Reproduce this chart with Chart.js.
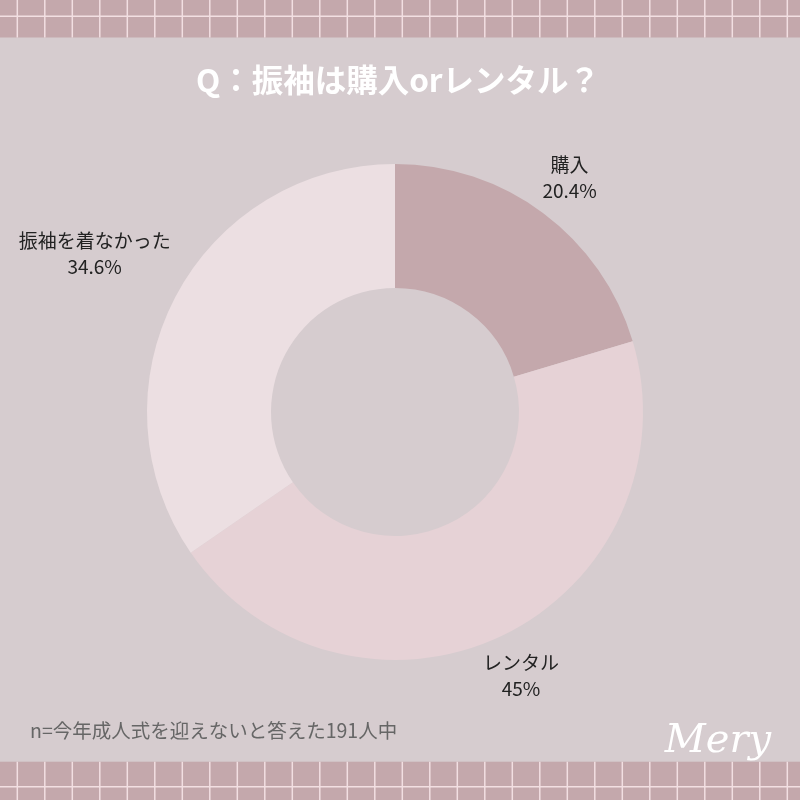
<!DOCTYPE html>
<html lang="ja">
<head>
<meta charset="utf-8">
<script src="https://cdn.jsdelivr.net/npm/chart.js@4"></script>
<style>
  html, body { margin: 0; padding: 0; background: #d6cccf; }
  #wrap { width: 800px; height: 800px; position: relative; }
</style>
</head>
<body>
<div id="wrap"><canvas id="pieChart" width="800" height="800"></canvas></div>
<script>
// データ
const labels = ['購入', 'レンタル', '振袖を着なかった'];
const values = [20.4, 45, 34.6];
const valueLabels = ['20.4%', '45%', '34.6%'];
const colors = ['#c4a8ac', '#e6d2d6', '#ecdfe2'];

const titleText = 'Q：振袖は購入orレンタル？';
const noteText = 'n=今年成人式を迎えないと答えた191人中';
const JP = '"Noto Sans CJK JP", "Noto Sans", sans-serif';

// 背景（上下の格子帯）
const backgroundPlugin = {
    id: 'background',
    beforeDraw(chart) {
        const ctx = chart.ctx;
        const w = chart.width;
        ctx.save();
        ctx.fillStyle = '#d6cccf';
        ctx.fillRect(0, 0, w, chart.height);

        function band(y0, y1, lineY) {
            ctx.fillStyle = '#c4a8ac';
            ctx.fillRect(0, y0, w, y1 - y0);
            ctx.strokeStyle = '#f2dfe2';
            ctx.lineWidth = 1.5;
            ctx.beginPath();
            for (let x = 17.3; x < w; x += 27.5) {
                ctx.moveTo(x, y0);
                ctx.lineTo(x, y1);
            }
            ctx.moveTo(0, lineY);
            ctx.lineTo(w, lineY);
            ctx.stroke();
        }
        band(0, 37.5, 16.3);
        band(761.7, 800, 786.7);

        // タイトル
        ctx.fillStyle = '#ffffff';
        ctx.font = 'bold 31.5px ' + JP;
        ctx.textAlign = 'center';
        ctx.textBaseline = 'middle';
        ctx.fillText(titleText, 398, 80);

        // 注記
        ctx.fillStyle = '#666666';
        ctx.font = '19.5px ' + JP;
        ctx.textAlign = 'left';
        ctx.fillText(noteText, 30, 731);

        // ロゴ
        ctx.fillStyle = '#ffffff';
        ctx.font = 'italic 40px "DejaVu Serif", serif';
        ctx.textAlign = 'center';
        ctx.fillText('Mery', 718, 742);
        ctx.restore();
    }
};

// 外側ラベル
const outerLabelPlugin = {
    id: 'outerLabels',
    afterDatasetsDraw(chart) {
        const ctx = chart.ctx;
        const meta = chart.getDatasetMeta(0);
        ctx.save();
        ctx.font = '19px ' + JP;
        ctx.fillStyle = '#222222';
        ctx.textAlign = 'center';
        ctx.textBaseline = 'middle';
        meta.data.forEach((arc, i) => {
            const p = arc.getProps(['x', 'y', 'startAngle', 'endAngle', 'outerRadius']);
            const mid = (p.startAngle + p.endAngle) / 2;
            const cos = Math.cos(mid);
            const halfW = Math.max(ctx.measureText(labels[i]).width, ctx.measureText(valueLabels[i]).width) / 2;
            const r = p.outerRadius + 44 + Math.max(0, halfW * Math.abs(cos) - 20);
            const x = p.x + cos * r;
            const y = p.y + Math.sin(mid) * r;
            ctx.fillText(labels[i], x, y - 13);
            ctx.fillText(valueLabels[i], x, y + 13);
        });
        ctx.restore();
    }
};

document.addEventListener('DOMContentLoaded', function() {
    const ctx = document.getElementById('pieChart').getContext('2d');
    new Chart(ctx, {
        type: 'doughnut',
        data: {
            labels: labels,
            datasets: [{
                data: values,
                backgroundColor: colors,
                borderWidth: 0
            }]
        },
        options: {
            responsive: false,
            animation: false,
            cutout: '50%',
            layout: {
                padding: { left: 147, right: 157, top: 164, bottom: 140 }
            },
            plugins: {
                legend: { display: false },
                tooltip: { enabled: false }
            }
        },
        plugins: [backgroundPlugin, outerLabelPlugin]
    });
});
</script>
</body>
</html>
